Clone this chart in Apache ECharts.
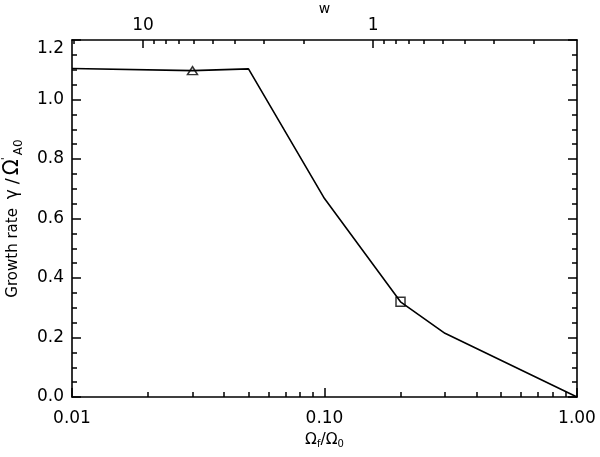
<!DOCTYPE html>
<html>
<head>
<meta charset="utf-8">
<script src="https://cdn.jsdelivr.net/npm/echarts@6/dist/echarts.min.js"></script>
<style>
html,body{margin:0;padding:0;background:#fff;}
#chart{width:600px;height:457px;}
</style>
</head>
<body>
<div id="chart"></div>
<script>
// ---- data ----
const omegaRatio = [0.01, 0.03, 0.05, 0.10, 0.20, 0.30, 1.00];
const growthRate = [1.104, 1.097, 1.103, 0.667, 0.320, 0.214, 0.000];
const triangleX = [0.03];
const triangleY = [1.097];
const squareX = [0.20];
const squareY = [0.320];

// ---- axis ticks ----
const xRange = [0.01, 1.0];
const xTickVals = [0.01, 0.1, 1.0];
const xTickLabels = ['0.01', '0.10', '1.00'];
const xMinorVals = [0.02,0.03,0.04,0.05,0.06,0.07,0.08,0.09,0.2,0.3,0.4,0.5,0.6,0.7,0.8,0.9];
const wRange = [0.13, 20.35];
const wTickVals = [1, 10];
const wTickLabels = ['1', '10'];
const wMinorVals = [0.2,0.3,0.4,0.5,0.6,0.7,0.8,0.9,2,3,4,5,6,7,8,9,20];
const yRange = [0, 1.2];
const yInterval = 0.2;
const yMinorVals = [0.05,0.10,0.15,0.25,0.30,0.35,0.45,0.50,0.55,0.65,0.70,0.75,0.85,0.90,0.95,1.05,1.10,1.15];

const L = Math.log10;
const FONT = 'DejaVu Sans';
const black = '#000';

function labelFor(vals, labels) {
  return function (v) {
    const i = vals.findIndex(t => Math.abs(L(t) - v) < 1e-6);
    return i >= 0 ? labels[i] : '';
  };
}

const axisLine = {show: true, onZero: false, lineStyle: {color: black, width: 1.6}};
const noLine = {show: false, onZero: false};
const tickStyle = {color: black, width: 1.5};

function yMajor(pos, withLabel) {
  const ax = {
    type: 'value', position: pos, min: yRange[0], max: yRange[1], interval: yInterval,
    axisLine: axisLine,
    axisTick: {show: true, inside: true, length: 9, lineStyle: tickStyle},
    axisLabel: {show: false},
    splitLine: {show: false}
  };
  if (withLabel) {
    ax.axisLabel = {show: true, margin: 8, color: black, fontFamily: FONT, fontSize: 17,
      formatter: v => v.toFixed(1), verticalAlignMaxLabel: 'top'};
  }
  return ax;
}
function yMinor(pos) {
  return {
    type: 'value', position: pos, min: yRange[0], max: yRange[1],
    axisLine: noLine,
    axisTick: {show: true, inside: true, length: 5, lineStyle: tickStyle, customValues: yMinorVals},
    axisLabel: {show: false},
    splitLine: {show: false}
  };
}

const yName = yMajor('left', true);
yName.name = 'Growth rate {g|γ}{sl|/}{o|Ω}{p|\'}{s|A0}';
yName.nameLocation = 'middle';
yName.nameRotate = 90;
yName.nameGap = 47;
yName.nameTextStyle = {color: black, fontFamily: FONT, fontSize: 15, lineHeight: 24,
  rich: {
    g: {fontSize: 17, lineHeight: 24, fontFamily: FONT, color: black, padding: [0, 2, 0, 4]},
    sl: {fontSize: 18, lineHeight: 24, fontFamily: FONT, color: black, padding: [0, 3, 0, 3]},
    o: {fontSize: 21, lineHeight: 24, fontFamily: FONT, color: black},
    p: {fontSize: 11, lineHeight: 11, verticalAlign: 'top', fontFamily: FONT, color: black, width: 1},
    s: {fontSize: 12, lineHeight: 11, verticalAlign: 'bottom', fontFamily: FONT, color: black, padding: [0, 0, 0, 3]}
  }};

const chart = echarts.init(document.getElementById('chart'), null, {renderer: 'canvas'});
chart.setOption({
  animation: false,
  backgroundColor: '#fff',
  grid: {left: 72, right: 23, top: 40, bottom: 60, containLabel: false, outerBoundsMode: 'none'},
  xAxis: [
    { // bottom major
      type: 'value', position: 'bottom', min: L(xRange[0]), max: L(xRange[1]),
      axisLine: axisLine,
      axisTick: {show: true, inside: true, length: 9, lineStyle: tickStyle, customValues: xTickVals.map(L)},
      axisLabel: {show: true, margin: 13, color: black, fontFamily: FONT, fontSize: 17,
        customValues: xTickVals.map(L), formatter: labelFor(xTickVals, xTickLabels)},
      splitLine: {show: false},
      name: '{t|Ω}{s|f}{t|/Ω}{s|0}', nameLocation: 'middle', nameGap: 32,
      nameTextStyle: {color: black, fontFamily: FONT,
        rich: {t: {fontSize: 15.5, lineHeight: 19, fontFamily: FONT, color: black},
               s: {fontSize: 10, lineHeight: 9, verticalAlign: 'bottom', fontFamily: FONT, color: black}}}
    },
    { // bottom minor
      type: 'value', position: 'bottom', min: L(xRange[0]), max: L(xRange[1]),
      axisLine: noLine,
      axisTick: {show: true, inside: true, length: 5, lineStyle: tickStyle, customValues: xMinorVals.map(L)},
      axisLabel: {show: false},
      splitLine: {show: false}
    },
    { // top major (w)
      type: 'value', position: 'top', inverse: true, min: L(wRange[0]), max: L(wRange[1]),
      axisLine: axisLine,
      axisTick: {show: true, inside: true, length: 8, lineStyle: tickStyle, customValues: wTickVals.map(L)},
      axisLabel: {show: true, margin: 6, color: black, fontFamily: FONT, fontSize: 17,
        customValues: wTickVals.map(L), formatter: labelFor(wTickVals, wTickLabels)},
      splitLine: {show: false},
      name: 'w', nameLocation: 'middle', nameGap: 24, nameMoveOverlap: false,
      nameTextStyle: {color: black, fontFamily: FONT, fontSize: 14}
    },
    { // top minor
      type: 'value', position: 'top', inverse: true, min: L(wRange[0]), max: L(wRange[1]),
      axisLine: noLine,
      axisTick: {show: true, inside: true, length: 4, lineStyle: tickStyle, customValues: wMinorVals.map(L)},
      axisLabel: {show: false},
      splitLine: {show: false}
    }
  ],
  yAxis: [
    yName,
    yMinor('left'),
    yMajor('right', false),
    yMinor('right')
  ],
  series: [
    {
      type: 'line', xAxisIndex: 0, yAxisIndex: 0,
      data: omegaRatio.map((x, i) => [L(x), growthRate[i]]),
      showSymbol: false, symbol: 'none',
      lineStyle: {color: black, width: 1.6}
    },
    {
      type: 'scatter', xAxisIndex: 0, yAxisIndex: 0,
      data: triangleX.map((x, i) => [L(x), triangleY[i]]),
      symbol: 'triangle', symbolSize: [10, 8],
      itemStyle: {color: 'rgba(0,0,0,0)', borderColor: black, borderWidth: 1.5}
    },
    {
      type: 'scatter', xAxisIndex: 0, yAxisIndex: 0,
      data: squareX.map((x, i) => [L(x), squareY[i]]),
      symbol: 'rect', symbolSize: 9,
      itemStyle: {color: 'rgba(0,0,0,0)', borderColor: black, borderWidth: 1.5}
    }
  ]
});
</script>
</body>
</html>
